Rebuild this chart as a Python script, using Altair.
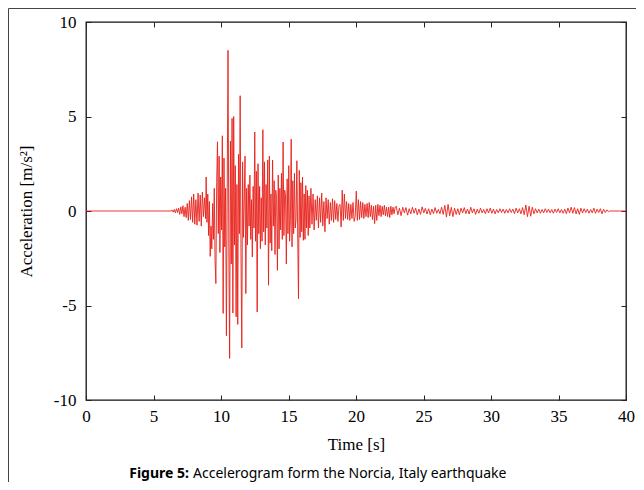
import altair as alt
import pandas as pd

# ---- data (time in s, acceleration in m/s^2) ----
# quiet start and end of the record
lead_t = [0.0]
lead_a = [0.0]
tail_t = [38.78, 40.0]
tail_a = [0.0, 0.0]

# build-up 6.30 s .. 8.86 s, sampled every 0.08 s
build_start, build_step = 6.30, 0.08
build_a = [0.0, 0.05, -0.06, 0.08, -0.1, 0.12, -0.08, 0.15, -0.18, 0.22,
           -0.15, 0.28, -0.3, 0.2, -0.35, 0.4, -0.5, 0.55, -0.45, 0.75,
           -0.6, 0.9, -0.7, 0.6, -0.75, 0.95, -0.55, 0.85, -0.8, 1.0,
           -0.3, 0.7, -0.4]

# strong motion 8.90 s .. 16.52 s, sampled every 0.06 s
strong_start, strong_step = 8.90, 0.06
strong_a = [1.8, -0.6, 0.9, -1.3, 0.5, -2.4, -0.8, -2.0, 0.4, -1.5,
            1.2, -2.6, -3.84, 1.5, 3.66, -1.2, 2.9, -2.2, 1.8, -1.0,
            3.98, -5.42, 2.8, -1.9, 1.2, -6.6, 1.0, 8.5, -2.0, -7.8,
            3.7, -2.8, 4.9, -5.4, 5.0, -1.8, 2.4, -5.6, 1.4, -6.0,
            3.0, -1.2, 6.1, -2.2, -7.25, 2.6, -1.4, 0.4, 2.9, -4.37,
            1.2, -1.8, 1.4, -0.8, 1.9, -1.5, 0.6, -2.43, 1.3, -0.9,
            4.18, -1.6, 2.1, -5.34, 2.5, -1.2, 1.3, -2.0, 0.7, -1.6,
            4.3, -1.1, 2.6, -1.8, 1.4, -0.9, 2.7, -3.93, 2.9, -1.7,
            0.9, -2.1, 2.7, -0.8, 1.6, -2.3, 1.1, 0.6, -3.14, 1.9,
            -2.0, 1.2, -1.0, 2.0, -1.5, 3.65, -1.3, 1.1, 0.8, -2.8,
            1.7, -1.2, 2.4, -1.6, -0.5, 3.8, -1.9, 1.6, -1.2, 2.0,
            -0.9, -0.4, 2.66, -1.2, -4.64, 2.15, -1.4, 1.5, -1.1, 1.8,
            -1.55, 0.9, -1.5, 1.35, -0.9, 1.1, -1.3, 0.8]

# decay 16.58 s .. 22.90 s, sampled every 0.08 s
decay_start, decay_step = 16.58, 0.08
decay_a = [-0.9, 1.2, -0.7, 0.9, -1.0, 0.6, -0.5, 0.8, -0.9, 0.7,
           -0.6, 0.95, -0.8, 0.5, -1.1, 0.7, -0.4, 0.6, -0.7, 0.45,
           -0.5, 0.65, -0.6, 0.55, -0.45, 0.4, -0.55, 0.3, 0.35, -0.85,
           1.1, -0.5, 0.9, -0.4, 0.5, -0.45, 0.4, -0.5, 0.35, -0.4,
           0.45, -0.55, -0.3, 1.05, -0.5, 0.6, -0.45, 0.5, -0.35, 0.45,
           -0.4, 0.35, -0.3, 0.4, -0.35, 0.45, -0.3, 0.3, -0.45, 0.25,
           -0.67, 0.3, -0.5, 0.35, -0.25, 0.3, -0.3, 0.25, -0.2, 0.3,
           -0.25, 0.2, -0.3, 0.2, -0.35, 0.25, -0.2, 0.2, -0.15, 0.2]

# coda 22.98 s .. 38.70 s, sampled every 0.12 s
coda_start, coda_step = 22.98, 0.12
coda_a = [0.25, -0.2, 0.15, -0.25, 0.2, -0.1, 0.18, -0.22, 0.12, -0.15,
          0.2, -0.12, 0.15, -0.2, 0.1, -0.18, 0.22, -0.1, 0.14, -0.16,
          0.12, -0.2, 0.1, -0.14, 0.18, -0.12, 0.08, -0.15, 0.2, -0.18,
          0.3, -0.32, 0.35, -0.25, 0.2, -0.3, 0.15, -0.18, 0.12, -0.2,
          0.15, -0.1, 0.18, -0.14, 0.1, -0.16, 0.2, -0.1, 0.12, -0.18,
          0.1, -0.12, 0.15, -0.1, 0.08, -0.14, 0.12, -0.1, 0.15, -0.12,
          0.1, -0.15, 0.08, -0.1, 0.12, -0.08, 0.1, -0.12, 0.08, -0.1,
          0.12, -0.08, 0.1, -0.14, 0.15, -0.1, 0.12, -0.15, 0.18, -0.2,
          0.32, -0.3, 0.25, -0.28, 0.2, -0.15, 0.12, -0.1, 0.1, -0.12,
          0.08, -0.1, 0.12, -0.08, 0.1, -0.1, 0.08, -0.12, 0.1, -0.08,
          0.12, -0.1, 0.08, -0.12, 0.1, -0.14, 0.15, -0.1, 0.2, -0.12,
          0.18, -0.15, 0.12, -0.18, 0.15, -0.1, 0.12, -0.08, 0.1, -0.12,
          0.08, -0.1, 0.15, -0.12, 0.1, -0.08, 0.12, -0.15, 0.1, -0.08,
          0.06, -0.04]

x_ticks = [0, 5, 10, 15, 20, 25, 30, 35, 40]
y_ticks = [-10, -5, 0, 5, 10]

caption_bold = "Figure 5:"
caption_text = "Accelerogram form the Norcia, Italy earthquake"

# ---- table ----
rows = [{"t": t, "a": a} for t, a in zip(lead_t, lead_a)]
for start, step, vals in [(build_start, build_step, build_a),
                          (strong_start, strong_step, strong_a),
                          (decay_start, decay_step, decay_a),
                          (coda_start, coda_step, coda_a)]:
    rows += [{"t": round(start + step * i, 3), "a": v} for i, v in enumerate(vals)]
rows += [{"t": t, "a": a} for t, a in zip(tail_t, tail_a)]
df = pd.DataFrame(rows)

W, H = 540, 378
SERIF = "Liberation Serif"
xs = alt.Scale(domain=[0, 40], nice=False, zero=False)
ys = alt.Scale(domain=[-10, 10], nice=False, zero=False)
plain_label = "'' + datum.value"

main_x_axis = alt.Axis(orient="bottom", values=x_ticks, title="Time [s]", ticks=False, tickSize=0,
                       domain=False, grid=False, labelFont=SERIF, labelFontSize=17,
                       labelColor="black", labelPadding=8, labelFlush=False,
                       labelExpr=plain_label,
                       titleFont=SERIF, titleFontSize=17, titleFontWeight="normal",
                       titleColor="black", titlePadding=12)
main_y_axis = alt.Axis(orient="left", values=y_ticks, title="Acceleration [m/s²]", ticks=False,
                       tickSize=0, domain=False, grid=False, labelFont=SERIF, labelFontSize=17,
                       labelColor="black", labelPadding=10, labelFlush=False,
                       labelExpr=plain_label,
                       titleFont=SERIF, titleFontSize=17, titleFontWeight="normal",
                       titleColor="black", titlePadding=18)

line = alt.Chart(df).mark_line(color="#e8201a", strokeWidth=0.9, clip=True).encode(
    x=alt.X("t:Q", scale=xs, axis=main_x_axis),
    y=alt.Y("a:Q", scale=ys, axis=main_y_axis),
)


def tick_axis(orient, values):
    return alt.Axis(orient=orient, values=values, labels=False, title=None, domain=False,
                    grid=False, ticks=True, tickSize=5, offset=-5, tickColor="#222",
                    tickWidth=1)


ticks_bl = alt.Chart(df).mark_line(strokeOpacity=0).encode(
    x=alt.X("t:Q", scale=xs, axis=tick_axis("bottom", x_ticks)),
    y=alt.Y("a:Q", scale=ys, axis=tick_axis("left", y_ticks)),
)
ticks_tr = alt.Chart(df).mark_line(strokeOpacity=0).encode(
    x=alt.X("t:Q", scale=xs, axis=tick_axis("top", x_ticks)),
    y=alt.Y("a:Q", scale=ys, axis=tick_axis("right", y_ticks)),
)

one = pd.DataFrame({"k": [0]})
frame = alt.Chart(one).mark_rect(fill=None, stroke="#444", strokeWidth=1).encode(
    x=alt.value(-77.5), x2=alt.value(W + 60), y=alt.value(-13.5), y2=alt.value(H + 140)
)
cap1 = alt.Chart(one).mark_text(font="Noto Sans", fontSize=14, fontWeight="bold",
                                align="right", baseline="middle", color="black").encode(
    x=alt.value(103), y=alt.value(452), text=alt.value(caption_bold)
)
cap2 = alt.Chart(one).mark_text(font="Noto Sans", fontSize=14, fontWeight="normal",
                                align="left", baseline="middle", color="black").encode(
    x=alt.value(107), y=alt.value(452), text=alt.value(caption_text)
)

chart = alt.layer(line, ticks_bl, ticks_tr, frame, cap1, cap2).resolve_axis(
    x="independent", y="independent"
).properties(
    width=W, height=H,
    autosize=alt.AutoSizeParams(type="none"),
    padding={"left": 78, "top": 14, "right": 10, "bottom": 82},
).configure_view(stroke="#111", strokeWidth=1.3)

chart.save("out.html", embed_options={"renderer": "svg", "actions": False})
